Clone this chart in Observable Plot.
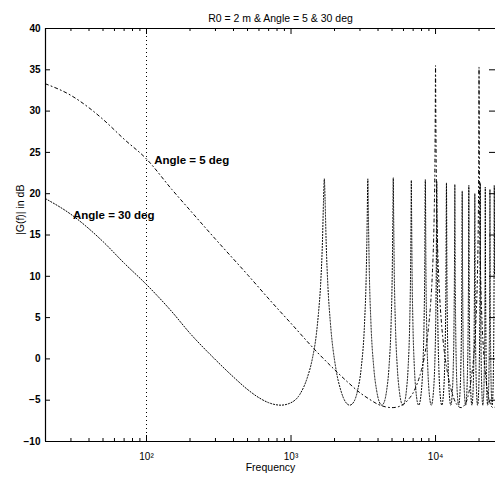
<!DOCTYPE html>
<html>
<head>
<meta charset="utf-8">
<script src="https://cdn.jsdelivr.net/npm/d3@7"></script>
<script src="https://cdn.jsdelivr.net/npm/@observablehq/plot@0.6"></script>
<style>
  html, body { margin: 0; padding: 0; background: #fff; }
</style>
</head>
<body>
<div id="chart"></div>
<script>
// ---- data: [frequency (Hz), |G(f)| (dB)] ----
const angle5 = [
  [20,33.3],[30,31.9],[40,30.4],[50,29.0],[70,26.6],[100,24.2],[150,20.5],[200,18.0],
  [300,14.5],[500,10.2],[750,6.7],[1000,4.3],[1500,0.9],[2000,-1.3],[2500,-2.9],
  [3000,-4.1],[3500,-4.9],[4000,-5.5],[4500,-5.8],[5000,-5.9],[5500,-5.8],[6000,-5.5],
  [6500,-4.9],[7000,-4.1],[7500,-2.9],[8000,-1.3],[8500,0.9],[9000,4.3],[9250,6.7],
  [9500,10.2],[9700,14.5],[9800,18.0],[9900,23.8],[9960,30.4],[10000,35.5],[10040,30.4],
  [10100,23.8],[10200,18.0],[10300,14.5],[10500,10.2],[10750,6.7],[11000,4.3],[11500,0.9],
  [12000,-1.3],[13000,-4.1],[14000,-5.5],[15000,-5.9],[16000,-5.5],[17000,-4.1],
  [18000,-1.3],[18500,0.9],[19000,4.3],[19500,10.2],[19700,14.5],[19800,18.0],[19900,23.8],
  [19960,30.4],[20000,35.3],[20040,30.4],[20100,23.8],[20200,18.0],[20300,14.5],
  [20500,10.2],[21000,4.3],[21500,0.9],[22000,-1.3],[23000,-4.1],[24000,-5.5],
  [25000,-5.9],[26000,-5.8]
];

const angle30 = [
  [20,19.4],[30,17.5],[50,14.2],[70,11.6],[100,9.0],[150,5.7],[200,3.1],[300,-0.1],
  [400,-2.2],[500,-3.7],[600,-4.7],[700,-5.3],[850,-5.6],[1000,-5.3],[1150,-4.3],
  [1300,-2.2],[1400,-0.1],[1500,3.1],[1550,5.6],[1600,8.8],[1650,14.2],[1680,19.4],
  [1700,21.8],[1720,19.4],[1750,14.2],[1800,8.8],[1870,4.5],[2040,-1.1],[2210,-3.8],
  [2380,-5.2],[2550,-5.6],
  [2720,-5.2],[2890,-3.8],[3060,-1.1],[3230,4.5],[3315,10.2],[3366,16.8],[3400,21.8],
  [3434,16.8],[3485,10.2],[3570,4.5],[3740,-1.1],[3910,-3.8],[4080,-5.2],[4250,-5.6],
  [4420,-5.2],[4590,-3.8],[4760,-1.1],[4930,4.5],[5015,10.2],[5066,16.8],[5100,21.9],
  [5134,16.8],[5185,10.2],[5270,4.5],[5440,-1.1],[5610,-3.8],[5780,-5.2],[5950,-5.6],
  [6120,-5.2],[6290,-3.8],[6460,-1.1],[6630,4.5],[6715,10.2],[6766,16.8],[6800,21.6],
  [6834,16.8],[6885,10.2],[6970,4.5],[7140,-1.1],[7310,-3.8],[7480,-5.2],[7650,-5.6],
  [7990,-3.8],[8160,-1.1],[8330,4.5],[8415,10.2],[8500,21.7],[8585,10.2],[8670,4.5],
  [8840,-1.1],[9010,-3.8],[9350,-5.6],
  [9690,-3.8],[9860,-1.1],[10030,4.5],[10115,10.2],[10200,21.5],[10285,10.2],[10370,4.5],
  [10540,-1.1],[10710,-3.8],[11050,-5.6],
  [11390,-3.8],[11560,-1.1],[11730,4.5],[11815,10.2],[11900,21.3],[11985,10.2],[12070,4.5],
  [12240,-1.1],[12410,-3.8],[12750,-5.6],
  [13090,-3.8],[13260,-1.1],[13430,4.5],[13515,10.2],[13600,21.1],[13685,10.2],[13770,4.5],
  [13940,-1.1],[14110,-3.8],[14450,-5.6],
  [14790,-3.8],[14960,-1.1],[15130,4.5],[15215,10.2],[15300,20.3],[15385,10.2],[15470,4.5],
  [15640,-1.1],[15810,-3.8],[16150,-5.6],
  [16490,-3.8],[16660,-1.1],[16830,4.5],[16915,10.2],[17000,21.0],[17085,10.2],[17170,4.5],
  [17340,-1.1],[17510,-3.8],[17850,-5.6],
  [18190,-3.8],[18360,-1.1],[18530,4.5],[18615,10.2],[18700,20.0],[18785,10.2],[18870,4.5],
  [19040,-1.1],[19210,-3.8],[19550,-5.6],
  [19890,-3.8],[20060,-1.1],[20230,4.5],[20315,10.2],[20400,21.3],[20485,10.2],[20570,4.5],
  [20740,-1.1],[20910,-3.8],[21250,-5.6],
  [21590,-3.8],[21760,-1.1],[21930,4.5],[22015,10.2],[22100,20.8],[22185,10.2],[22270,4.5],
  [22440,-1.1],[22610,-3.8],[22950,-5.6],
  [23290,-3.8],[23460,-1.1],[23630,4.5],[23715,10.2],[23800,20.5],[23885,10.2],[23970,4.5],
  [24140,-1.1],[24310,-3.8],[24650,-5.6],
  [24990,-3.8],[25160,-1.1],[25330,4.5],[25415,10.2],[25500,21.0],[25585,10.2]
];

const xDomain = [20, 26000];
const yDomain = [-10, 40];
const xMajorTicks = [100, 1000, 10000];
const xMinorTicks = [30,40,50,60,70,80,90,200,300,400,500,600,700,800,900,
                     2000,3000,4000,5000,6000,7000,8000,9000,20000];
const yTicks = [-10,-5,0,5,10,15,20,25,30,35,40];
const gridX = [100];

const titleText = "R0 = 2 m & Angle = 5 & 30 deg";
const xLabel = "Frequency";
const yLabel = "|G(f)| in dB";
const annotations = [
  {text: "Angle = 5 deg", f: 113, db: 24.0},
  {text: "Angle = 30 deg", f: 31, db: 17.4}
];

// ---- layout ----
const W = 495, H = 478;
const mT = 28, mB = 37, mL = 45, mR = 0;
const plotW = W - mL - mR, plotH = H - mT - mB;
const sup = {"2": "\u00b2", "3": "\u00b3", "4": "\u2074"};

const chart = Plot.plot({
  width: W, height: H,
  marginTop: mT, marginBottom: mB, marginLeft: mL, marginRight: mR,
  style: {fontFamily: "'Liberation Sans', Arial, Helvetica, sans-serif", fontSize: "10px", background: "#fff", color: "#000"},
  x: {type: "log", domain: xDomain, axis: null},
  y: {domain: yDomain, axis: null},
  marks: [
    Plot.ruleX(gridX, {x: d => d, stroke: "#000", strokeDasharray: "1,3", strokeWidth: 1}),
    Plot.line(angle30, {x: d => d[0], y: d => d[1], curve: "monotone-x", stroke: "#000",
      strokeWidth: 1, strokeDasharray: "1.2,1.8", clip: true}),
    Plot.line(angle5, {x: d => d[0], y: d => d[1], curve: "monotone-x", stroke: "#000",
      strokeWidth: 1, strokeDasharray: "3,3,1,3", clip: true}),
    // axes box (left, top, bottom)
    Plot.ruleX([xDomain[0]], {x: d => d, stroke: "#000", strokeWidth: 1.2}),
    Plot.ruleY([yDomain[0], yDomain[1]], {y: d => d, stroke: "#000", strokeWidth: 1.2}),
    // inward ticks
    Plot.tickX(xMajorTicks, {x: d => d, insetTop: plotH - 6, stroke: "#000"}),
    Plot.tickX(xMajorTicks, {x: d => d, insetBottom: plotH - 6, stroke: "#000"}),
    Plot.tickX(xMinorTicks, {x: d => d, insetTop: plotH - 3, stroke: "#000"}),
    Plot.tickX(xMinorTicks, {x: d => d, insetBottom: plotH - 3, stroke: "#000"}),
    Plot.tickY(yTicks, {y: d => d, insetRight: plotW - 5, stroke: "#000"}),
    Plot.tickY(yTicks, {y: d => d, insetLeft: plotW - 6, stroke: "#000"}),
    // tick labels
    Plot.axisX(xMajorTicks, {tickSize: 0, tickPadding: 11, fontSize: 10, label: null,
      tickFormat: d => "10" + sup[String(Math.round(Math.log10(d)))]}),
    Plot.axisY(yTicks, {tickSize: 0, tickPadding: 5, fontSize: 10, fontWeight: "bold", label: null}),
    // axis titles & title
    Plot.text([xLabel], {frameAnchor: "bottom", dy: 29, dx: 0, fontSize: 10.5}),
    Plot.text([yLabel], {frameAnchor: "left", dx: -25, rotate: -90, fontSize: 10.5}),
    Plot.text([titleText], {frameAnchor: "top", dy: -14, dx: 10, fontSize: 10.5}),
    // annotations
    Plot.text(annotations, {x: "f", y: "db", text: "text", textAnchor: "start",
      fontWeight: "bold", fontSize: 11.5, fill: "#000"})
  ]
});
document.getElementById("chart").appendChild(chart);
</script>
</body>
</html>
